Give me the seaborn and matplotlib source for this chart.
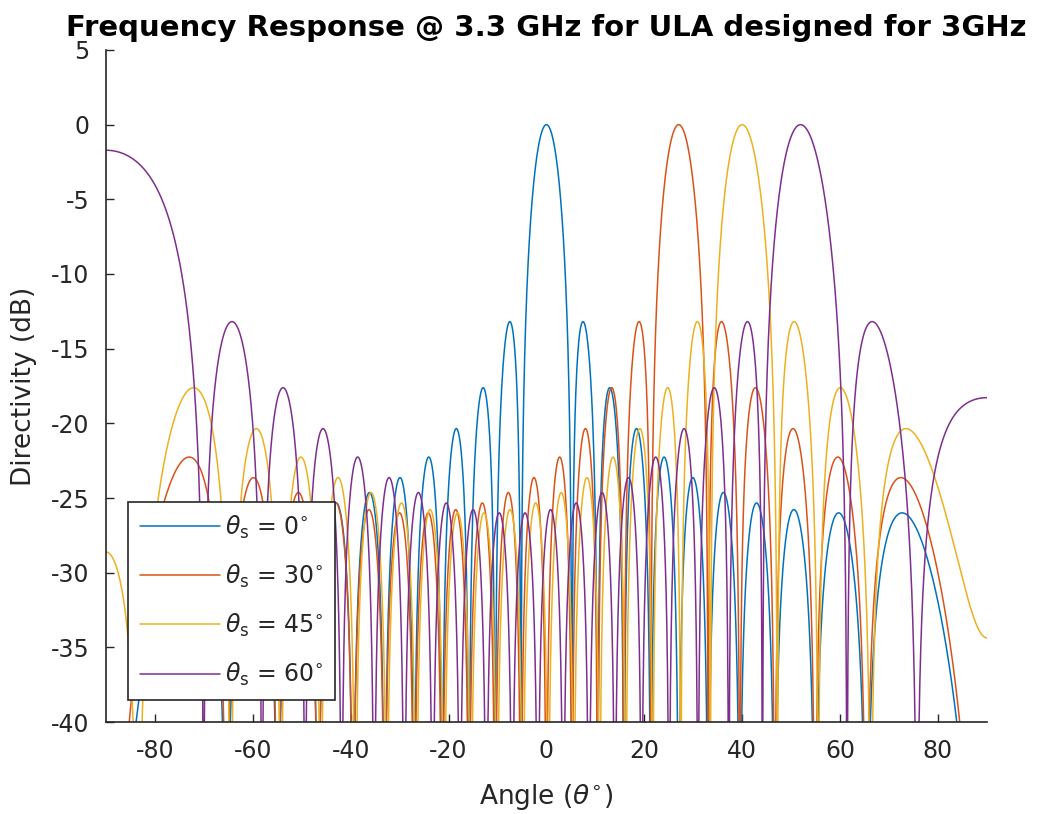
import numpy as np
import pandas as pd
import matplotlib
matplotlib.use("Agg")
import matplotlib.pyplot as plt
import seaborn as sns

# Uniform linear array parameters
n_elements = 20
f_design = 3.0e9          # element spacing is half a wavelength at this frequency
f_operate = 3.3e9         # frequency at which the response is evaluated
steer_angles = [0, 30, 45, 60]   # steering angles (degrees)
series_colors = ["#0072BD", "#D95319", "#EDB120", "#7E2F8E"]
x_ticks = [-80, -60, -40, -20, 0, 20, 40, 60, 80]
y_ticks = [-40, -35, -30, -25, -20, -15, -10, -5, 0, 5]

angles = np.linspace(-90, 90, 3601)
c = 3e8
spacing = 0.5 * c / f_design
lam = c / f_operate

frames = []
for th_s in steer_angles:
    # progressive phase chosen for the design frequency
    psi = 2 * np.pi * spacing / lam * np.sin(np.radians(angles)) \
        - np.pi * np.sin(np.radians(th_s))
    num = np.sin(n_elements * psi / 2)
    den = n_elements * np.sin(psi / 2)
    small = np.abs(den) < 1e-12
    af = np.where(small, 1.0, num / np.where(small, 1, den))
    d_db = 20 * np.log10(np.maximum(np.abs(af), 1e-8))
    frames.append(pd.DataFrame({"angle": angles, "dB": d_db,
                                "steer": rf"$\theta_{{\rm s}}$ = {th_s}$^{{\circ}}$"}))
df = pd.concat(frames, ignore_index=True)

sns.set_theme(style="white")
plt.rcParams["font.family"] = ["DejaVu Sans"]
plt.rcParams["mathtext.fontset"] = "dejavusans"
plt.rcParams["axes.unicode_minus"] = False

fig = plt.figure(figsize=(10.41, 8.14), dpi=100)
ax = fig.add_axes([0.1018, 0.113, 0.8462, 0.8256])

sns.lineplot(data=df, x="angle", y="dB", hue="steer", palette=series_colors,
             linewidth=1.1, ax=ax, sort=False, estimator=None)

ax.set_xlim(-90, 90)
ax.set_ylim(-40, 5)
ax.set_xticks(x_ticks)
ax.set_yticks(y_ticks)
axis_grey = "#262626"
ax.tick_params(direction="in", length=6, width=1, colors=axis_grey,
               labelsize=17, pad=12, top=False, right=False, bottom=True, left=True)
for side in ["top", "right"]:
    ax.spines[side].set_visible(False)
for side in ["left", "bottom"]:
    ax.spines[side].set_color(axis_grey)
    ax.spines[side].set_linewidth(1.2)

ax.set_xlabel(r"Angle ($\theta^{\circ}$)", fontsize=19, color=axis_grey, labelpad=14)
ax.set_ylabel("Directivity (dB)", fontsize=19, color=axis_grey, labelpad=10)
ax.set_title("Frequency Response @ 3.3 GHz for ULA designed for 3GHz",
             fontsize=21, fontweight="bold", color="black", pad=10)

leg = ax.legend(loc="lower left", bbox_to_anchor=(0.025, 0.033), borderaxespad=0,
                fontsize=17, frameon=True, fancybox=False, framealpha=1,
                handlelength=3.4, handletextpad=0.2, labelspacing=0.93,
                borderpad=0.5, title=None)
leg.get_frame().set_edgecolor("#262626")
leg.get_frame().set_facecolor("white")
leg.get_frame().set_linewidth(1.2)
for t in leg.get_texts():
    t.set_color(axis_grey)

fig.savefig("out.png", dpi=100)
